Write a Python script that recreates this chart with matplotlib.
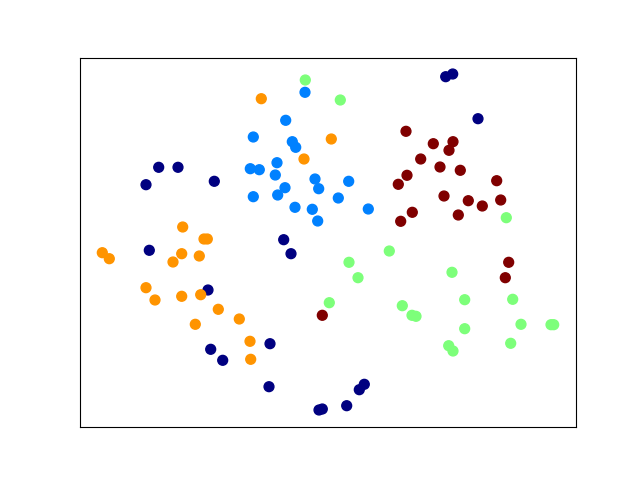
import numpy as np
import matplotlib
matplotlib.use("Agg")
import matplotlib.pyplot as plt

# cluster points (x, y with y increasing downward)
navy_x = [445.7, 452.7, 478.0, 158.7, 178.0, 146.0, 214.3, 283.7, 149.3, 291.0,
          208.0, 270.0, 210.7, 222.7, 269.0, 319.0, 322.3, 364.3, 359.3, 346.7]
navy_y = [76.7, 74.0, 118.7, 167.3, 167.3, 184.7, 181.3, 239.7, 250.3, 253.7,
          290.0, 343.7, 349.3, 360.3, 386.7, 410.0, 409.0, 384.3, 389.7, 405.7]

blue_x = [305.0, 285.7, 253.3, 292.3, 295.7, 250.3, 259.3, 277.0, 275.3, 285.0,
          277.7, 253.3, 295.0, 315.0, 318.7, 312.3, 317.7, 348.7, 338.3, 368.3]
blue_y = [92.3, 120.3, 137.0, 141.7, 147.3, 168.7, 169.7, 162.7, 175.0, 187.7,
          195.0, 196.7, 207.3, 179.0, 188.7, 209.3, 221.0, 181.3, 198.0, 209.0]

green_x = [305.3, 340.3, 506.3, 329.3, 389.3, 349.0, 358.0, 452.0, 464.7, 512.7,
           402.3, 412.0, 416.0, 521.0, 464.7, 551.0, 553.7, 510.7, 448.7, 453.0]
green_y = [80.0, 100.0, 217.7, 302.7, 251.0, 262.3, 277.7, 272.3, 299.7, 299.3,
           305.7, 315.3, 316.3, 324.3, 328.7, 324.7, 324.7, 343.3, 345.7, 351.0]

orange_x = [261.3, 304.0, 331.3, 182.7, 204.0, 207.3, 102.3, 109.3, 181.7, 173.0,
            199.3, 146.0, 155.0, 181.7, 200.7, 218.3, 239.3, 195.3, 250.0, 250.7]
orange_y = [98.7, 159.0, 139.0, 227.0, 239.0, 239.0, 252.7, 258.7, 253.7, 262.0,
            256.0, 287.7, 300.0, 296.3, 294.7, 309.3, 319.0, 324.3, 341.3, 359.3]

red_x = [406.0, 433.3, 453.0, 449.0, 420.7, 440.0, 460.3, 407.0, 398.3, 496.7,
         444.0, 468.3, 482.3, 500.7, 458.3, 412.3, 400.7, 322.3, 508.7, 505.3]
red_y = [131.3, 143.7, 141.7, 150.3, 159.0, 167.0, 170.3, 175.3, 184.3, 180.7,
         196.0, 200.7, 206.0, 200.0, 215.0, 212.3, 221.3, 315.3, 262.3, 277.7]

X = np.array(navy_x + blue_x + green_x + orange_x + red_x)
Y = np.array(navy_y + blue_y + green_y + orange_y + red_y)
labels = np.repeat(np.arange(5), 20)

fig, ax = plt.subplots(figsize=(6.4, 4.8), dpi=100)
ax.scatter(X, Y, c=labels, cmap=plt.cm.jet, s=50)
ax.set_xlim(80, 576)
ax.set_ylim(427.2, 57.6)
ax.set_xticks([])
ax.set_yticks([])

plt.savefig("out.png")
